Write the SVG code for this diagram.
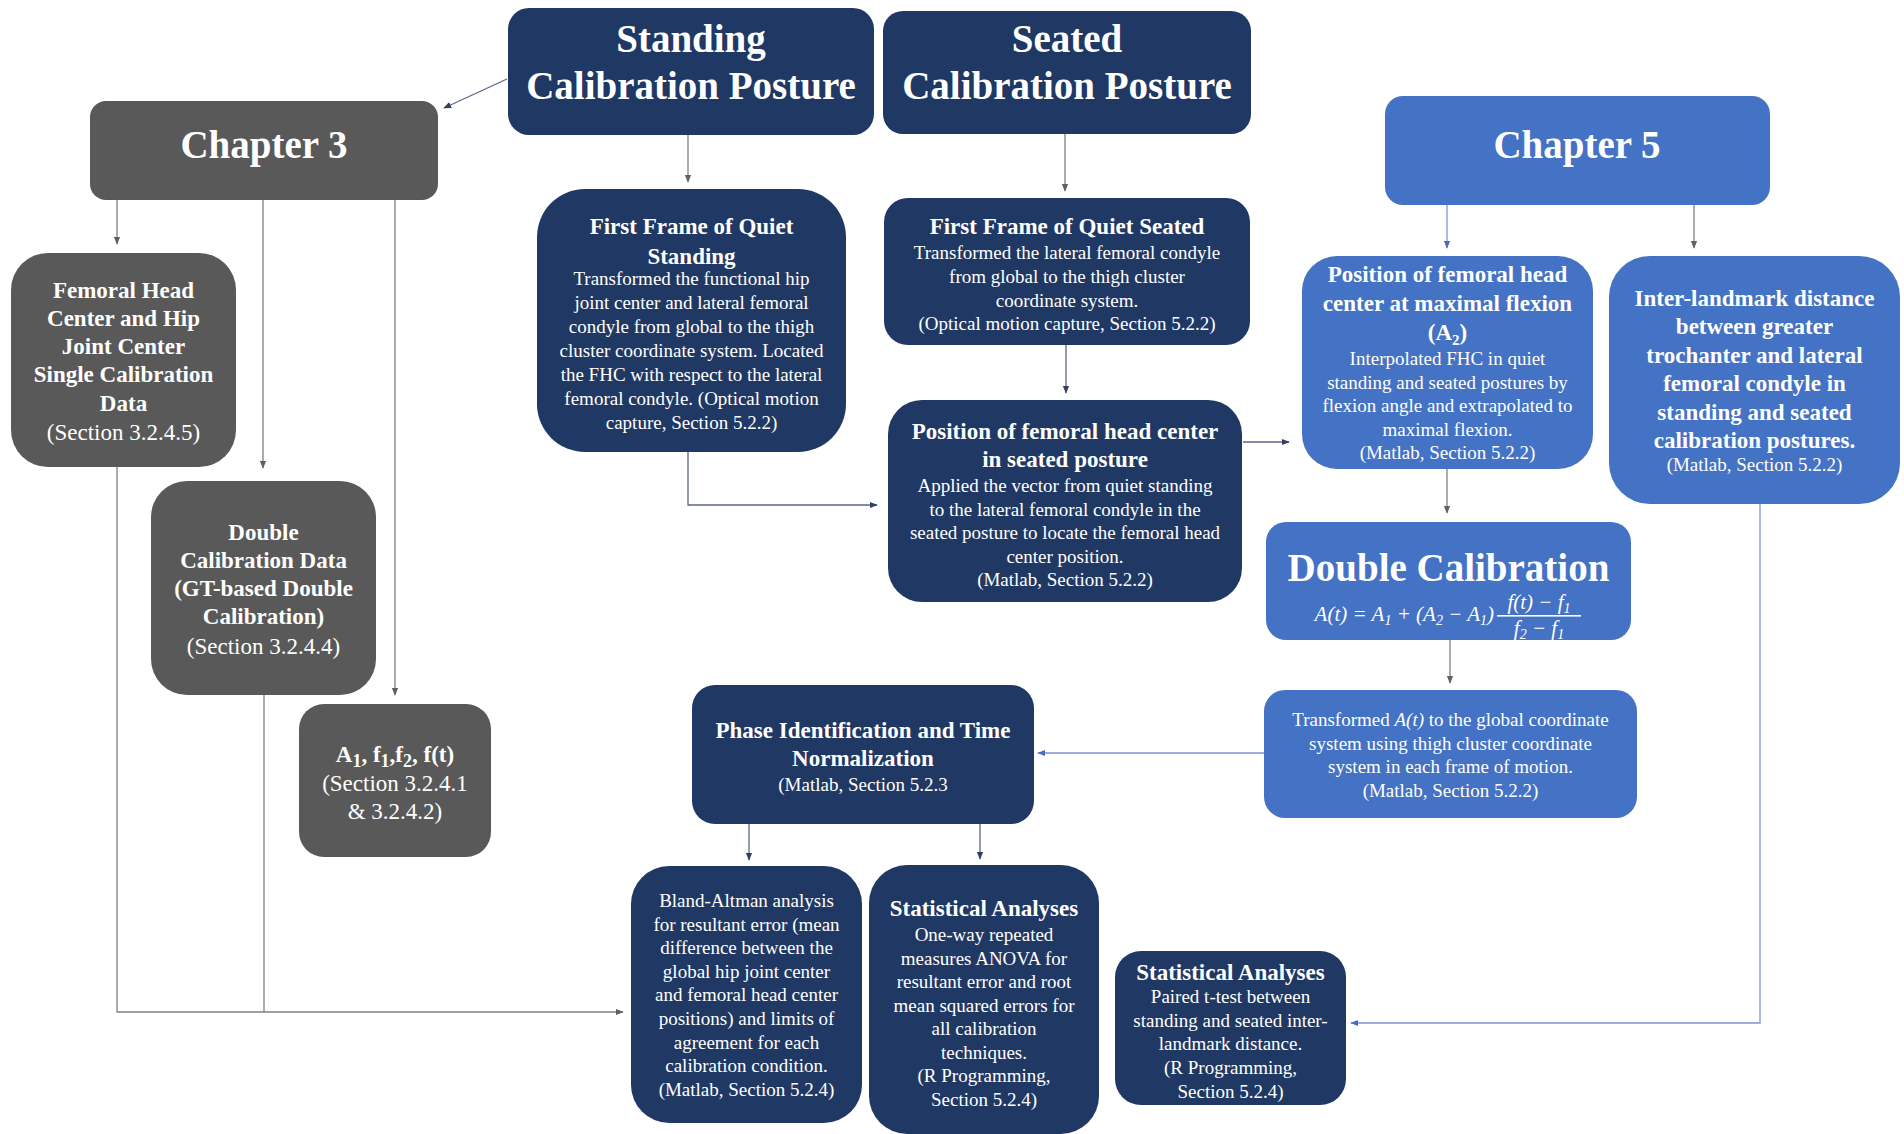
<svg xmlns="http://www.w3.org/2000/svg" width="1904" height="1134" viewBox="0 0 1904 1134">
<defs>
<style>
.navy{fill:#203864}
.gray{fill:#595959}
.blue{fill:#4472C4}
text{fill:#ffffff;font-family:"Liberation Serif","Times New Roman",serif;text-anchor:middle}
.h{font-weight:bold;font-size:39px}
.t{font-weight:bold;font-size:23px}
.b{font-size:19px}
.s{font-size:23px}
.f{font-style:italic;font-size:21px}
.cg{fill:none;stroke:#808080;stroke-width:1.3}
.cb{fill:none;stroke:#7d95d6;stroke-width:1.3}
.cn{fill:none;stroke:#5b6785;stroke-width:1.3}
</style>
<marker id="ag" viewBox="0 0 10 10" refX="9" refY="5" markerWidth="8" markerHeight="8" markerUnits="userSpaceOnUse" orient="auto"><path d="M0,1 L10,5 L0,9 z" fill="#606060"/></marker>
<marker id="ab" viewBox="0 0 10 10" refX="9" refY="5" markerWidth="8" markerHeight="8" markerUnits="userSpaceOnUse" orient="auto"><path d="M0,1 L10,5 L0,9 z" fill="#4a6cc0"/></marker>
<marker id="an" viewBox="0 0 10 10" refX="9" refY="5" markerWidth="8" markerHeight="8" markerUnits="userSpaceOnUse" orient="auto"><path d="M0,1 L10,5 L0,9 z" fill="#34405e"/></marker>
</defs>
<rect width="1904" height="1134" fill="#ffffff"/>

<g id="connectors">
<path class="cn" d="M507,79 L444,108" marker-end="url(#an)"/>
<path class="cg" d="M688,135 V182" marker-end="url(#ag)"/>
<path class="cg" d="M1065,134 V191" marker-end="url(#ag)"/>
<path class="cn" d="M1066,345 V393" marker-end="url(#an)"/>
<path class="cn" d="M688,452 V505 H877" marker-end="url(#an)"/>
<path class="cn" d="M1243,442 H1289" marker-end="url(#an)"/>
<path class="cb" d="M1447,205 V248" marker-end="url(#ab)"/>
<path class="cg" d="M1694,205 V248" marker-end="url(#ag)"/>
<path class="cg" d="M1447,469 V513" marker-end="url(#ag)"/>
<path class="cg" d="M1450,640 V683" marker-end="url(#ag)"/>
<path class="cb" d="M1264,753 H1038" marker-end="url(#ab)"/>
<path class="cn" d="M749,824 V860" marker-end="url(#an)"/>
<path class="cn" d="M980,824 V859" marker-end="url(#an)"/>
<path class="cb" d="M1760,504 V1023 H1351" marker-end="url(#ab)"/>
<path class="cg" d="M117,200 V244" marker-end="url(#ag)"/>
<path class="cg" d="M263,200 V468" marker-end="url(#ag)"/>
<path class="cg" d="M395,200 V695" marker-end="url(#ag)"/>
<path class="cg" d="M117,467 V1012 H623" marker-end="url(#ag)"/>
<path class="cg" d="M264,695 V1012"/>
</g>

<g id="standing">
<rect class="navy" x="508" y="8" width="366" height="127" rx="21"/>
<text class="h" x="691" y="52">Standing</text>
<text class="h" x="691" y="99">Calibration Posture</text>
</g>

<g id="seated">
<rect class="navy" x="883" y="11" width="368" height="123" rx="20"/>
<text class="h" x="1067" y="52">Seated</text>
<text class="h" x="1067" y="99">Calibration Posture</text>
</g>

<g id="chapter3">
<rect class="gray" x="90" y="101" width="348" height="99" rx="16"/>
<text class="h" x="264" y="158">Chapter 3</text>
</g>

<g id="chapter5">
<rect class="blue" x="1385" y="96" width="385" height="109" rx="18"/>
<text class="h" x="1577" y="158">Chapter 5</text>
</g>

<g id="ff-standing">
<rect class="navy" x="537" y="189" width="309" height="263" rx="48"/>
<text class="t" x="691.5" y="234">First Frame of Quiet</text>
<text class="t" x="691.5" y="264">Standing</text>
<text class="b" x="691.5" y="285">Transformed the functional hip</text>
<text class="b" x="691.5" y="309">joint center and lateral femoral</text>
<text class="b" x="691.5" y="333">condyle from global to the thigh</text>
<text class="b" x="691.5" y="357">cluster coordinate system. Located</text>
<text class="b" x="691.5" y="381">the FHC with respect to the lateral</text>
<text class="b" x="691.5" y="405">femoral condyle. (Optical motion</text>
<text class="b" x="691.5" y="429">capture, Section 5.2.2)</text>
</g>

<g id="ff-seated">
<rect class="navy" x="884" y="198" width="366" height="147" rx="24"/>
<text class="t" x="1067" y="234">First Frame of Quiet Seated</text>
<text class="b" x="1067" y="259">Transformed the lateral femoral condyle</text>
<text class="b" x="1067" y="283">from global to the thigh cluster</text>
<text class="b" x="1067" y="306.5">coordinate system.</text>
<text class="b" x="1067" y="330">(Optical motion capture, Section 5.2.2)</text>
</g>

<g id="pos-seated">
<rect class="navy" x="888" y="400" width="354" height="202" rx="34"/>
<text class="t" x="1065" y="439">Position of femoral head center</text>
<text class="t" x="1065" y="467">in seated posture</text>
<text class="b" x="1065" y="492">Applied the vector from quiet standing</text>
<text class="b" x="1065" y="515.5">to the lateral femoral condyle in the</text>
<text class="b" x="1065" y="539">seated posture to locate the femoral head</text>
<text class="b" x="1065" y="562.5">center position.</text>
<text class="b" x="1065" y="586">(Matlab, Section 5.2.2)</text>
</g>

<g id="pos-maxflex">
<rect class="blue" x="1302" y="256" width="291" height="213" rx="35"/>
<text class="t" x="1447.5" y="282">Position of femoral head</text>
<text class="t" x="1447.5" y="311">center at maximal flexion</text>
<text class="t" x="1447.5" y="340">(A<tspan font-size="15" dy="5">2</tspan><tspan dy="-5">)</tspan></text>
<text class="b" x="1447.5" y="365">Interpolated FHC in quiet</text>
<text class="b" x="1447.5" y="388.5">standing and seated postures by</text>
<text class="b" x="1447.5" y="412">flexion angle and extrapolated to</text>
<text class="b" x="1447.5" y="435.5">maximal flexion.</text>
<text class="b" x="1447.5" y="459">(Matlab, Section 5.2.2)</text>
</g>

<g id="inter-landmark">
<rect class="blue" x="1609" y="256" width="291" height="248" rx="41"/>
<text class="t" x="1754.5" y="305.5">Inter-landmark distance</text>
<text class="t" x="1754.5" y="334">between greater</text>
<text class="t" x="1754.5" y="362.5">trochanter and lateral</text>
<text class="t" x="1754.5" y="391">femoral condyle in</text>
<text class="t" x="1754.5" y="419.5">standing and seated</text>
<text class="t" x="1754.5" y="448">calibration postures.</text>
<text class="b" x="1754.5" y="471">(Matlab, Section 5.2.2)</text>
</g>

<g id="femoral-head">
<rect class="gray" x="11" y="253" width="225" height="214" rx="37"/>
<text class="t" x="123.5" y="298">Femoral Head</text>
<text class="t" x="123.5" y="326">Center and Hip</text>
<text class="t" x="123.5" y="354">Joint Center</text>
<text class="t" x="123.5" y="382">Single Calibration</text>
<text class="t" x="123.5" y="411">Data</text>
<text class="s" x="123.5" y="440">(Section 3.2.4.5)</text>
</g>

<g id="double-cal-data">
<rect class="gray" x="151" y="481" width="225" height="214" rx="36"/>
<text class="t" x="263.5" y="540">Double</text>
<text class="t" x="263.5" y="568">Calibration Data</text>
<text class="t" x="263.5" y="596">(GT-based Double</text>
<text class="t" x="263.5" y="624">Calibration)</text>
<text class="s" x="263.5" y="654">(Section 3.2.4.4)</text>
</g>

<g id="a1-f">
<rect class="gray" x="299" y="704" width="192" height="153" rx="25"/>
<text class="t" x="395" y="762" font-size="28">A<tspan font-size="18" dy="5">1</tspan><tspan dy="-5">, f</tspan><tspan font-size="18" dy="5">1</tspan><tspan dy="-5">,f</tspan><tspan font-size="18" dy="5">2</tspan><tspan dy="-5">, f(t)</tspan></text>
<text class="s" x="395" y="791">(Section 3.2.4.1</text>
<text class="s" x="395" y="819">&amp; 3.2.4.2)</text>
</g>

<g id="double-calibration">
<rect class="blue" x="1266" y="522" width="365" height="118" rx="20"/>
<text class="h" x="1448.5" y="581">Double Calibration</text>
<text class="f" x="1494" y="621" style="text-anchor:end">A(t)  = A<tspan font-size="14" dy="4">1</tspan><tspan dy="-4"> + (A</tspan><tspan font-size="14" dy="4">2</tspan><tspan dy="-4"> − A</tspan><tspan font-size="14" dy="4">1</tspan><tspan dy="-4">)</tspan></text>
<text class="f" x="1539" y="609">f(t) − f<tspan font-size="14" dy="4">1</tspan></text>
<rect x="1497" y="615" width="84" height="1.6" fill="#ffffff"/>
<text class="f" x="1539" y="635">f<tspan font-size="14" dy="4">2</tspan><tspan dy="-4"> − f</tspan><tspan font-size="14" dy="4">1</tspan></text>
</g>

<g id="transformed">
<rect class="blue" x="1264" y="690" width="373" height="128" rx="21"/>
<text class="b" x="1450.5" y="726">Transformed <tspan font-style="italic">A(t)</tspan> to the global coordinate</text>
<text class="b" x="1450.5" y="749.5">system using thigh cluster coordinate</text>
<text class="b" x="1450.5" y="773">system in each frame of motion.</text>
<text class="b" x="1450.5" y="796.5">(Matlab, Section 5.2.2)</text>
</g>

<g id="phase">
<rect class="navy" x="692" y="685" width="342" height="139" rx="23"/>
<text class="t" x="863" y="738">Phase Identification and Time</text>
<text class="t" x="863" y="766">Normalization</text>
<text class="b" x="863" y="790.5">(Matlab, Section 5.2.3</text>
</g>

<g id="bland-altman">
<rect class="navy" x="631" y="866" width="231" height="257" rx="38"/>
<text class="b" x="746.5" y="907">Bland-Altman analysis</text>
<text class="b" x="746.5" y="930.6">for resultant error (mean</text>
<text class="b" x="746.5" y="954.2">difference between the</text>
<text class="b" x="746.5" y="977.8">global hip joint center</text>
<text class="b" x="746.5" y="1001.4">and femoral head center</text>
<text class="b" x="746.5" y="1025">positions) and limits of</text>
<text class="b" x="746.5" y="1048.6">agreement for each</text>
<text class="b" x="746.5" y="1072.2">calibration condition.</text>
<text class="b" x="746.5" y="1095.8">(Matlab, Section 5.2.4)</text>
</g>

<g id="stat-anova">
<rect class="navy" x="869" y="865" width="230" height="269" rx="38"/>
<text class="t" x="984" y="916">Statistical Analyses</text>
<text class="b" x="984" y="941">One-way repeated</text>
<text class="b" x="984" y="964.5">measures ANOVA for</text>
<text class="b" x="984" y="988">resultant error and root</text>
<text class="b" x="984" y="1011.5">mean squared errors for</text>
<text class="b" x="984" y="1035">all calibration</text>
<text class="b" x="984" y="1058.5">techniques.</text>
<text class="b" x="984" y="1082">(R Programming,</text>
<text class="b" x="984" y="1105.5">Section 5.2.4)</text>
</g>

<g id="stat-ttest">
<rect class="navy" x="1115" y="951" width="231" height="154" rx="26"/>
<text class="t" x="1230.5" y="979.5">Statistical Analyses</text>
<text class="b" x="1230.5" y="1003">Paired t-test between</text>
<text class="b" x="1230.5" y="1026.7">standing and seated inter-</text>
<text class="b" x="1230.5" y="1050.4">landmark distance.</text>
<text class="b" x="1230.5" y="1074.1">(R Programming,</text>
<text class="b" x="1230.5" y="1097.8">Section 5.2.4)</text>
</g>
</svg>
